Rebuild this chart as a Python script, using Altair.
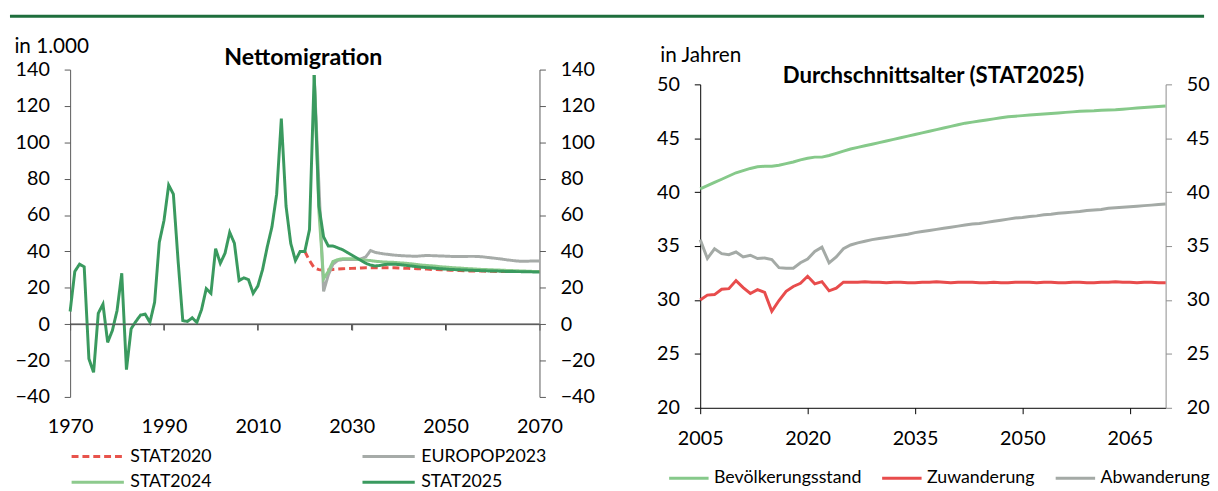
import altair as alt
import pandas as pd

FONT = "Lato"

# ---------------- Nettomigration (in 1.000) ----------------
years_stat2025 = list(range(1970, 2071))
stat2025 = [
    7, 29, 33, 31.5, -19, -26.5, 6, 11, -10, -3.5,
    7.5, 28, -25, -2.5, 1.5, 5, 5.5, 1, 12, 45,
    57, 76.5, 71.5, 35, 2, 1.5, 3.5, 1, 8, 19.5,
    17, 41.5, 33.5, 39, 50.5, 44.5, 24, 25.5, 24.5, 17,
    21, 30, 42.5, 53.5, 71.5, 113, 65, 44.5, 35, 40,
    40, 52, 137, 65, 48, 43, 43, 42, 41, 39.5,
    38, 36.5, 35, 33.5, 32.5, 32, 32.3, 32.8, 33, 33,
    32.8, 32.5, 32.2, 31.9, 31.6, 31.3, 31.1, 30.9, 30.7, 30.5,
    30.3, 30.1, 30, 29.9, 29.8, 29.7, 29.6, 29.5, 29.4, 29.3,
    29.2, 29.2, 29.1, 29, 29, 28.9, 28.9, 28.8, 28.8, 28.7,
    28.7,
]

years_stat2024 = list(range(2022, 2071))
stat2024 = [
    137, 62, 25, 29, 34.5, 35.5, 36, 36,
    36, 35.8, 35.5, 35.2, 35, 34.6, 34.4, 34.2, 34.1, 34,
    33.8, 33.6, 33.4, 33.1, 32.8, 32.5, 32.3, 32.1, 31.9, 31.6,
    31.4, 31.2, 31, 30.9, 30.7, 30.5, 30.4, 30.2, 30.1, 30,
    29.9, 29.8, 29.7, 29.6, 29.5, 29.4, 29.3, 29.2, 29.1, 29,
    29,
]

years_europop = list(range(2022, 2071))
europop2023 = [
    137, 77, 18, 27, 33, 35, 35.5, 35.5,
    35.5, 35.5, 36, 37, 40.5, 39.5, 39, 38.6, 38.3, 38,
    37.8, 37.6, 37.5, 37.4, 37.4, 37.6, 37.8, 37.7, 37.6, 37.5,
    37.4, 37.3, 37.2, 37.2, 37.2, 37.3, 37.3, 37.2, 37, 36.7,
    36.4, 36.1, 35.8, 35.4, 35.1, 34.8, 34.6, 34.6, 34.7, 34.7,
    34.7,
]

years_stat2020 = list(range(2020, 2071))
stat2020 = [
    40, 35, 31, 30, 29.7, 29.8, 30.1, 30.3, 30.5, 30.6,
    30.7, 30.8, 30.9, 31, 31, 31, 31, 31, 31, 31,
    30.9, 30.8, 30.7, 30.6, 30.5, 30.4, 30.3, 30.1, 30, 29.9,
    29.8, 29.7, 29.6, 29.5, 29.4, 29.3, 29.3, 29.2, 29.2, 29.1,
    29.1, 29, 29, 29, 29, 29, 29, 29, 29, 29,
    29,
]

legend_row1 = ["STAT2020", "EUROPOP2023"]
legend_row2 = ["STAT2024", "STAT2025"]
colors_row1 = ["#e8534c", "#a6aba8"]
colors_row2 = ["#8dca8d", "#3a9a5f"]
dash_row1 = [[7, 4], [1, 0]]
dash_row2 = [[1, 0], [1, 0]]
left_ticks_x = [1970, 1990, 2010, 2030, 2050, 2070]
left_ticks_y = [-40, -20, 0, 20, 40, 60, 80, 100, 120, 140]
left_x_domain = [1970, 2070]
left_y_domain = [-40, 140]
zero_tick_len = 3.3  # length of the downward tick marks on the zero line (in 1.000)

# ---------------- Durchschnittsalter (STAT2025) ----------------
years_age = list(range(2005, 2071))
bevoelkerung = [
    40.3, 40.6, 40.9, 41.2, 41.5,
    41.8, 42.0, 42.2, 42.35, 42.4, 42.4, 42.5, 42.65, 42.8, 43.0,
    43.15, 43.25, 43.25, 43.4, 43.6, 43.8, 44.0, 44.15, 44.3, 44.45,
    44.6, 44.75, 44.9, 45.05, 45.2, 45.35, 45.5, 45.65, 45.8, 45.95,
    46.1, 46.25, 46.4, 46.5, 46.6, 46.7, 46.8, 46.9, 47.0, 47.05,
    47.1, 47.15, 47.2, 47.25, 47.3, 47.35, 47.4, 47.45, 47.5, 47.52,
    47.55, 47.6, 47.62, 47.65, 47.7, 47.75, 47.8, 47.85, 47.9, 47.95,
    48.0,
]
zuwanderung = [
    30.0, 30.45, 30.5, 31.0, 31.05,
    31.8, 31.15, 30.6, 30.95, 30.7, 28.95, 29.95, 30.8, 31.25, 31.55,
    32.2, 31.5, 31.7, 30.85, 31.1, 31.65, 31.65, 31.65, 31.7, 31.65,
    31.65, 31.6, 31.65, 31.65, 31.6, 31.6, 31.65, 31.65, 31.7, 31.65,
    31.6, 31.65, 31.65, 31.65, 31.6, 31.6, 31.65, 31.6, 31.6, 31.65,
    31.65, 31.65, 31.6, 31.65, 31.65, 31.6, 31.6, 31.65, 31.65, 31.6,
    31.6, 31.65, 31.65, 31.7, 31.65, 31.65, 31.6, 31.65, 31.65, 31.6,
    31.6,
]
abwanderung = [
    35.6, 33.85, 34.75, 34.3, 34.2,
    34.45, 34.0, 34.15, 33.85, 33.9, 33.75, 33.0, 32.95, 32.95, 33.45,
    33.8, 34.5, 34.9, 33.45, 34.0, 34.75, 35.1, 35.3, 35.45, 35.6,
    35.7, 35.8, 35.9, 36.0, 36.1, 36.25, 36.35, 36.45, 36.55, 36.65,
    36.75, 36.85, 36.95, 37.05, 37.1, 37.2, 37.3, 37.4, 37.5, 37.6,
    37.65, 37.75, 37.8, 37.9, 37.95, 38.05, 38.1, 38.15, 38.2, 38.3,
    38.35, 38.4, 38.5, 38.55, 38.6, 38.65, 38.7, 38.75, 38.8, 38.85,
    38.9,
]
right_order = ["Bevölkerungsstand", "Zuwanderung", "Abwanderung"]
right_colors = ["#86c98a", "#e84c4c", "#a4aaa6"]
right_ticks_x = [2005, 2020, 2035, 2050, 2065]
right_ticks_y = [20, 25, 30, 35, 40, 45, 50]


def frame(name, years, vals):
    return pd.DataFrame({"Jahr": years, "Wert": vals, "Reihe": name})


left_df = pd.concat([
    frame("STAT2020", years_stat2020, stat2020),
    frame("EUROPOP2023", years_europop, europop2023),
    frame("STAT2024", years_stat2024, stat2024),
    frame("STAT2025", years_stat2025, stat2025),
], ignore_index=True)

right_df = pd.concat([
    frame("Bevölkerungsstand", years_age, bevoelkerung),
    frame("Zuwanderung", years_age, zuwanderung),
    frame("Abwanderung", years_age, abwanderung),
], ignore_index=True)

# zero line of the left panel and its small downward ticks (built from the axis lists)
zero_df = pd.DataFrame({"Jahr": left_x_domain, "Wert": [0, 0], "Reihe": "zero"})
tick_rows = []
for yr in left_ticks_x[1:-1]:
    tick_rows.append({"Jahr": yr, "Wert": 0, "Reihe": f"t{yr}"})
    tick_rows.append({"Jahr": yr, "Wert": -zero_tick_len, "Reihe": f"t{yr}"})
ticks_df = pd.DataFrame(tick_rows)

AXIS_GREY = "#595959"

# ---------------- left panel ----------------
LW, LH = 476, 332
xL_scale = alt.Scale(domain=left_x_domain, nice=False, zero=False)
xL_axis = alt.Axis(values=left_ticks_x, format="d", offset=-73.8, tickSize=6,
                   labelPadding=88, labelFlush=False, labelOverlap=False,
                   domain=True, ticks=True, domainOpacity=1, tickOpacity=1,
                   domainColor=AXIS_GREY, tickColor=AXIS_GREY, title=None, zindex=1)
yL_scale = alt.Scale(domain=left_y_domain, nice=False, zero=False)
yL_axis = alt.Axis(orient="left", values=left_ticks_y, tickSize=6, labelPadding=15,
                   domainColor=AXIS_GREY, tickColor=AXIS_GREY,
                   title="in 1.000", titleAngle=0, titleAlign="left",
                   titleBaseline="middle", titleX=-57, titleY=-23,
                   titleFontWeight="normal")
xL = alt.X("Jahr:Q", scale=xL_scale, axis=xL_axis)
yL = alt.Y("Wert:Q", scale=yL_scale, axis=yL_axis)


def legend_row(legend_y):
    return alt.Legend(title=None, orient="none", legendX=0, legendY=legend_y,
                      direction="horizontal", columns=2, symbolType="stroke",
                      symbolSize=2809, symbolStrokeWidth=3, labelOffset=5,
                      columnPadding=146, gridAlign="each", padding=0)


def row_layer(names, colors, dashes, legend_y):
    col = alt.Color("Reihe:N", scale=alt.Scale(domain=names, range=colors),
                    legend=legend_row(legend_y))
    dsh = alt.StrokeDash("Reihe:N", scale=alt.Scale(domain=names, range=dashes),
                         legend=legend_row(legend_y))
    layers = []
    for name in names:
        layers.append(
            alt.Chart(left_df).transform_filter(alt.datum.Reihe == name)
            .mark_line(strokeWidth=3)
            .encode(x=xL, y=yL, color=col, strokeDash=dsh)
        )
    return alt.layer(*layers)


zero_line = alt.Chart(zero_df).mark_line(color="#404040", strokeWidth=1.2).encode(
    x=xL, y=yL)
zero_ticks = alt.Chart(ticks_df).mark_line(color="#404040", strokeWidth=1.2).encode(
    x=xL, y=yL, detail="Reihe:N")

left_lines = alt.layer(
    zero_line,
    zero_ticks,
    row_layer(legend_row1, colors_row1, dash_row1, 364.5),
    row_layer(legend_row2, colors_row2, dash_row2, 390.5),
).resolve_scale(color="independent", strokeDash="independent")

right_axis_L = alt.Chart(frame("STAT2025", years_stat2025, stat2025)).mark_line(opacity=0).encode(
    x=xL,
    y=alt.Y("Wert:Q", scale=yL_scale,
            axis=alt.Axis(orient="right", values=left_ticks_y, tickSize=6, labelPadding=15,
                          domainColor=AXIS_GREY, tickColor=AXIS_GREY,
                          title="Nettomigration", titleAngle=0, titleAlign="center",
                          titleBaseline="middle", titleX=-240, titleY=-12,
                          titleFontWeight="bold", titleFontSize=23.5)),
)

top_rule = alt.Chart(pd.DataFrame({"k": [0]})).mark_rule(color="#1e6e3c", strokeWidth=3).encode(
    x=alt.value(-61), x2=alt.value(1150), y=alt.value(-54)
)

left = alt.layer(left_lines, right_axis_L, top_rule).resolve_scale(
    y="independent").properties(width=LW, height=LH)

# ---------------- right panel ----------------
RW, RH = 472, 343
xR_scale = alt.Scale(domain=[2005, 2070], nice=False, zero=False)
xR = alt.X("Jahr:Q", scale=xR_scale,
           axis=alt.Axis(values=right_ticks_x, format="d", tickSize=6, labelPadding=15,
                         labelFlush=False, labelOverlap=False,
                         domainColor="#000000", tickColor="#000000", title=None))
yR_scale = alt.Scale(domain=[20, 50], nice=False, zero=False, range=[343, 15])
yR = alt.Y("Wert:Q", scale=yR_scale,
           axis=alt.Axis(orient="left", values=right_ticks_y, tickSize=6, labelPadding=15,
                         domainColor="#000000", tickColor="#000000",
                         title="in Jahren", titleAngle=0, titleAlign="left",
                         titleBaseline="middle", titleX=-41, titleY=-14,
                         titleFontWeight="normal"))
colorR = alt.Color("Reihe:N", scale=alt.Scale(domain=right_order, range=right_colors),
                   legend=alt.Legend(title=None, orient="none", legendX=-33, legendY=393,
                                     columns=3, direction="horizontal", symbolType="stroke",
                                     symbolSize=1600, symbolStrokeWidth=3, labelOffset=4,
                                     columnPadding=14, gridAlign="none", padding=0))

right_lines = alt.Chart(right_df).mark_line(strokeWidth=3).encode(
    x=xR, y=yR, color=colorR, detail="Reihe:N")

right_axis_R = alt.Chart(frame("Abwanderung", years_age, abwanderung)).mark_line(opacity=0).encode(
    x=xR,
    y=alt.Y("Wert:Q", scale=yR_scale,
            axis=alt.Axis(orient="right", values=right_ticks_y, tickSize=6, labelPadding=15,
                          domainColor="#8c8c8c", tickColor="#8c8c8c",
                          title="Durchschnittsalter (STAT2025)", titleAngle=0,
                          titleAlign="center", titleBaseline="middle",
                          titleX=-236, titleY=6, titleFontWeight="bold", titleFontSize=22.5)),
)

right = alt.layer(right_lines, right_axis_R).resolve_scale(y="independent").properties(
    width=RW, height=RH)

chart = alt.hconcat(left, right, spacing=163, bounds="flush").resolve_scale(
    color="independent", strokeDash="independent"
).properties(
    padding={"left": 0, "top": 3, "right": 0, "bottom": 0}
).configure(font=FONT).configure_view(stroke=None).configure_axis(
    grid=False, labelFontSize=20, titleFontSize=21, labelColor="#000000",
    titleColor="#000000", labelFont=FONT, titleFont=FONT, domainWidth=1, tickWidth=1
).configure_legend(labelFontSize=18, labelColor="#000000", labelFont=FONT)

chart.save("out.html", embed_options={"renderer": "svg", "actions": False})
